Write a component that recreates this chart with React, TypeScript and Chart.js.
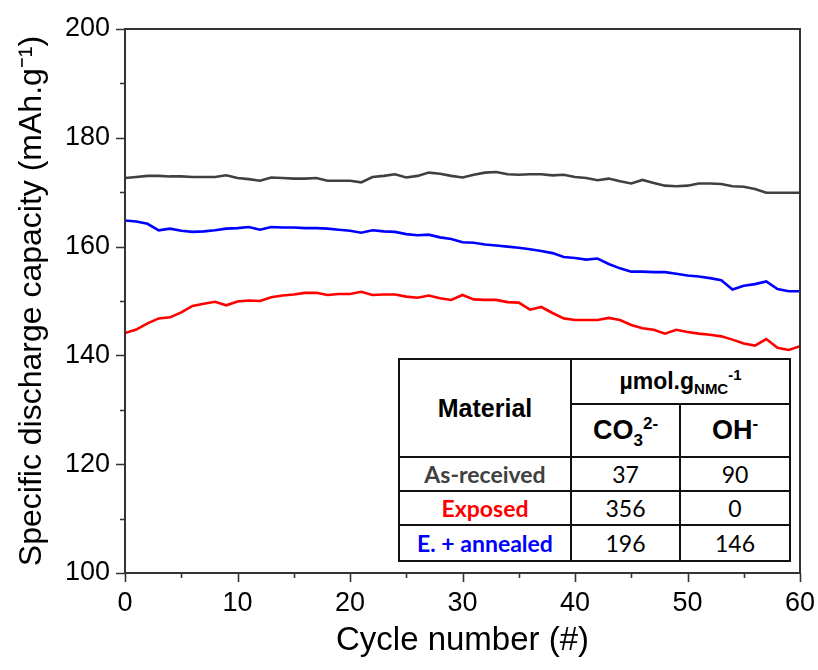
import React, { useEffect, useRef } from "react";
import { Chart, registerables } from "chart.js";

Chart.register(...registerables);

const cycles = [
  0, 1, 2, 3, 4, 5, 6, 7, 8, 9, 10, 11, 12, 13, 14, 15, 16, 17, 18, 19, 20,
  21, 22, 23, 24, 25, 26, 27, 28, 29, 30, 31, 32, 33, 34, 35, 36, 37, 38, 39, 40,
  41, 42, 43, 44, 45, 46, 47, 48, 49, 50, 51, 52, 53, 54, 55, 56, 57, 58, 59, 60,
];

const asReceived = [
  172.6, 172.8, 173.0, 173.0, 172.9, 172.9, 172.8, 172.8, 172.8, 173.1, 172.6,
  172.4, 172.1, 172.7, 172.6, 172.5, 172.5, 172.6, 172.1, 172.1, 172.1,
  171.8, 172.8, 173.0, 173.3, 172.7, 173.0, 173.6, 173.4, 173.0, 172.7,
  173.2, 173.6, 173.7, 173.3, 173.2, 173.3, 173.3, 173.1, 173.2, 172.8,
  172.6, 172.2, 172.5, 172.0, 171.6, 172.25, 171.7, 171.2, 171.1, 171.2,
  171.6, 171.6, 171.5, 171.1, 171.0, 170.6, 169.9, 169.9, 169.9, 169.9,
];

const exposed = [
  144.1, 144.75, 145.9, 146.8, 147.0, 147.9, 149.1, 149.5, 149.85, 149.2, 149.9,
  150.1, 150.0, 150.7, 151.0, 151.2, 151.5, 151.5, 151.1, 151.3, 151.3,
  151.7, 151.1, 151.2, 151.2, 150.8, 150.6, 151.0, 150.5, 150.2, 151.1,
  150.3, 150.2, 150.2, 149.8, 149.7, 148.4, 148.9, 147.8, 146.8, 146.5,
  146.5, 146.5, 146.9, 146.5, 145.6, 145.0, 144.7, 144.0, 144.7, 144.3,
  144.0, 143.8, 143.5, 142.9, 142.2, 141.8, 143.0, 141.4, 141.0, 141.7,
];

const annealed = [
  164.8, 164.6, 164.2, 163.0, 163.3, 162.9, 162.7, 162.8, 163.0, 163.3, 163.4,
  163.6, 163.1, 163.6, 163.5, 163.5, 163.4, 163.4, 163.3, 163.1, 162.9,
  162.55, 163.0, 162.8, 162.7, 162.3, 162.1, 162.2, 161.7, 161.4, 160.8,
  160.7, 160.4, 160.2, 160.0, 159.8, 159.5, 159.2, 158.8, 158.1, 157.9,
  157.6, 157.8, 156.8, 156.0, 155.4, 155.4, 155.3, 155.3, 155.0, 154.7,
  154.5, 154.2, 153.8, 152.1, 152.8, 153.1, 153.6, 152.2, 151.8, 151.8,
];

const seriesNames = ["As-received", "Exposed", "E. + annealed"];
const seriesColors = ["#404040", "#ff0000", "#0000ff"];

const co3Values = ["37", "356", "196"];
const ohValues = ["90", "0", "146"];

const yMin = 100;
const yMax = 200;
const yMajorStep = 20;
const yMinorStep = 10;
const xMin = 0;
const xMax = 60;
const xMajorStep = 10;
const xMinorStep = 5;

const AXIS_COLOR = "#333333";
const FONT = "'Liberation Sans', Arial, sans-serif";

const framePlugin = {
  id: "frameTicks",
  afterDraw(chart: any) {
    const { ctx, chartArea, scales } = chart;
    const { left, right, top, bottom } = chartArea;
    const xs = scales.x;
    const ys = scales.y;
    ctx.save();
    ctx.strokeStyle = AXIS_COLOR;
    ctx.lineWidth = 2;
    ctx.strokeRect(left, top, right - left, bottom - top);
    ctx.lineWidth = 1.6;
    ctx.beginPath();
    for (let v = yMin; v <= yMax; v += yMinorStep) {
      const py = Math.round(ys.getPixelForValue(v)) + 0.5;
      const len = v % yMajorStep === 0 ? 9 : 5;
      ctx.moveTo(left - len, py);
      ctx.lineTo(left, py);
    }
    for (let v = xMin; v <= xMax; v += xMinorStep) {
      const px = Math.round(xs.getPixelForValue(v)) + 0.5;
      const len = v % xMajorStep === 0 ? 9 : 5;
      ctx.moveTo(px, bottom);
      ctx.lineTo(px, bottom + len);
    }
    ctx.stroke();
    ctx.restore();
  },
};

const cellBase: React.CSSProperties = {
  border: "2px solid #111",
  textAlign: "center",
  verticalAlign: "middle",
  padding: 0,
  lineHeight: 1,
};

const headFont: React.CSSProperties = {
  fontFamily: FONT,
  fontWeight: "bold",
  color: "#000",
};

const bodyFont = "Lato, 'Open Sans', sans-serif";

export default function App() {
  const canvasRef = useRef<HTMLCanvasElement | null>(null);

  useEffect(() => {
    const canvas = canvasRef.current;
    if (!canvas) return;
    const datasets = [asReceived, exposed, annealed].map((vals, i) => ({
      label: seriesNames[i],
      data: cycles.map((c, j) => ({ x: c, y: vals[j] })),
      borderColor: seriesColors[i],
      backgroundColor: seriesColors[i],
      borderWidth: 2.6,
      pointRadius: 0,
      tension: 0,
      fill: false,
    }));
    const chart = new Chart(canvas, {
      type: "line",
      data: { datasets },
      plugins: [framePlugin],
      options: {
        responsive: false,
        animation: false,
        layout: { padding: { top: 29, right: 18, left: 0, bottom: 0 } },
        plugins: {
          legend: { display: false },
          tooltip: { enabled: false },
        },
        scales: {
          x: {
            type: "linear",
            min: xMin,
            max: xMax,
            afterFit(scale: any) {
              scale.height = 97;
              scale.paddingLeft = 0;
              scale.paddingRight = 0;
            },
            grid: { display: false, drawTicks: false },
            border: { display: true, color: AXIS_COLOR, width: 2 },
            ticks: {
              stepSize: xMajorStep,
              color: "#000",
              padding: 14,
              maxRotation: 0,
              font: { family: FONT, size: 27 },
            },
            title: {
              display: true,
              text: "Cycle number (#)",
              color: "#000",
              font: { family: FONT, size: 33 },
              padding: { top: 0, bottom: 9 },
            },
          },
          y: {
            type: "linear",
            min: yMin,
            max: yMax,
            afterFit(scale: any) {
              scale.width = 125;
              scale.paddingTop = 0;
              scale.paddingBottom = 0;
            },
            grid: { display: false, drawTicks: false },
            border: { display: true, color: AXIS_COLOR, width: 2 },
            ticks: {
              stepSize: yMajorStep,
              color: "#000",
              padding: 15,
              font: { family: FONT, size: 27 },
            },
            title: {
              display: true,
              text: "Specific discharge capacity (mAh.g\u207B\u00B9)",
              color: "#000",
              font: { family: FONT, size: 32 },
              padding: { top: 13, bottom: 0 },
            },
          },
        },
      },
    });
    return () => chart.destroy();
  }, []);

  return (
    <div
      style={{
        position: "absolute",
        left: 0,
        top: 0,
        width: 818,
        height: 670,
        background: "#fff",
      }}
    >
      <canvas ref={canvasRef} width={818} height={670} />
      <table
        style={{
          position: "absolute",
          left: 398,
          top: 358,
          width: 391,
          height: 203,
          borderCollapse: "collapse",
          tableLayout: "fixed",
          background: "#fff",
        }}
      >
        <colgroup>
          <col style={{ width: 172 }} />
          <col style={{ width: 109 }} />
          <col style={{ width: 110 }} />
        </colgroup>
        <tbody>
          <tr style={{ height: 45 }}>
            <td rowSpan={2} style={{ ...cellBase, ...headFont, fontSize: 25 }}>
              Material
            </td>
            <td colSpan={2} style={{ ...cellBase, ...headFont, fontSize: 23 }}>
              µmol.g
              <span style={{ fontSize: 15, position: "relative", top: 5 }}>NMC</span>
              <span style={{ fontSize: 15, position: "relative", top: -9 }}>-1</span>
            </td>
          </tr>
          <tr style={{ height: 53 }}>
            <td style={{ ...cellBase, ...headFont, fontSize: 27 }}>
              CO
              <span style={{ fontSize: 17, position: "relative", top: 7 }}>3</span>
              <span style={{ fontSize: 17, position: "relative", top: -10 }}>2-</span>
            </td>
            <td style={{ ...cellBase, ...headFont, fontSize: 27 }}>
              OH
              <span style={{ fontSize: 17, position: "relative", top: -10 }}>-</span>
            </td>
          </tr>
          {seriesNames.map((name, i) => (
            <tr key={name} style={{ height: i === 2 ? 36 : 34 }}>
              <td
                style={{
                  ...cellBase,
                  fontFamily: bodyFont,
                  fontWeight: "bold",
                  fontSize: 23,
                  color: seriesColors[i],
                }}
              >
                {name}
              </td>
              <td style={{ ...cellBase, fontFamily: bodyFont, fontSize: 23, color: "#000" }}>
                {co3Values[i]}
              </td>
              <td style={{ ...cellBase, fontFamily: bodyFont, fontSize: 23, color: "#000" }}>
                {ohValues[i]}
              </td>
            </tr>
          ))}
        </tbody>
      </table>
    </div>
  );
}
